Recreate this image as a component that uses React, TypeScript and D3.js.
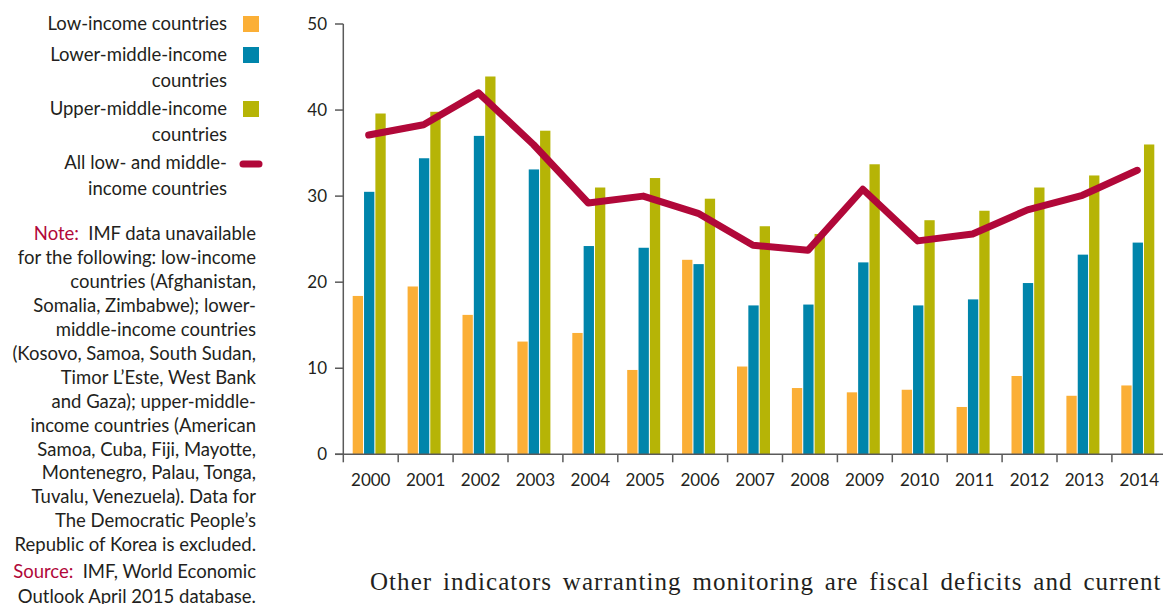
import * as d3 from "d3";
import * as React from "react";

const years = [
  "2000", "2001", "2002", "2003", "2004", "2005", "2006", "2007",
  "2008", "2009", "2010", "2011", "2012", "2013", "2014",
];
const lowIncome = [18.4, 19.5, 16.2, 13.1, 14.1, 9.8, 22.6, 10.2, 7.7, 7.2, 7.5, 5.5, 9.1, 6.8, 8.0];
const lowerMiddle = [30.5, 34.4, 37.0, 33.1, 24.2, 24.0, 22.1, 17.3, 17.4, 22.3, 17.3, 18.0, 19.9, 23.2, 24.6];
const upperMiddle = [39.6, 39.8, 43.9, 37.6, 31.0, 32.1, 29.7, 26.5, 25.6, 33.7, 27.2, 28.3, 31.0, 32.4, 36.0];
const allLowMiddle = [37.1, 38.3, 42.0, 36.0, 29.2, 30.0, 28.0, 24.3, 23.7, 30.8, 24.8, 25.6, 28.4, 30.1, 33.0];
const yTicks = [0, 10, 20, 30, 40, 50];

const seriesKeys = ["low", "lowerMiddle", "upperMiddle"];
const seriesValues = [lowIncome, lowerMiddle, upperMiddle];
const colors = ["#FBAF36", "#0085AB", "#B6B406"];
const lineColor = "#B10839";
const textColor = "#231F20";
const axisColor = "#5a5a5a";

const legendItems = [
  { lines: ["Low-income countries"], kind: "bar", color: colors[0] },
  { lines: ["Lower-middle-income", "countries"], kind: "bar", color: colors[1] },
  { lines: ["Upper-middle-income", "countries"], kind: "bar", color: colors[2] },
  { lines: ["All low- and middle-", "income countries"], kind: "line", color: lineColor },
];

const noteLines = [
  "IMF data unavailable",
  "for the following: low-income",
  "countries (Afghanistan,",
  "Somalia, Zimbabwe); lower-",
  "middle-income countries",
  "(Kosovo, Samoa, South Sudan,",
  "Timor L\u2019Este, West Bank",
  "and Gaza); upper-middle-",
  "income countries (American",
  "Samoa, Cuba, Fiji, Mayotte,",
  "Montenegro, Palau, Tonga,",
  "Tuvalu, Venezuela). Data for",
  "The Democratic People\u2019s",
  "Republic of Korea is excluded.",
];
const sourceLines = ["IMF, World Economic", "Outlook April 2015 database."];
const bodyText = "Other indicators warranting monitoring are fiscal deficits and current";

const W = 1163;
const H = 604;
const font = "Lato, 'Open Sans', sans-serif";
const sideSize = 18.5;

export default function App() {
  React.useEffect(() => {
    document.body.style.margin = "0";
  }, []);

  const plotLeft = 343.3;
  const step = 54.9;
  const x0 = d3
    .scaleBand()
    .domain(years)
    .range([plotLeft, plotLeft + step * years.length]);
  const x1 = d3
    .scaleBand()
    .domain(seriesKeys)
    .range([9.4, 42.4])
    .paddingInner(0.09);
  const y = d3.scaleLinear().domain([0, 50]).range([454.3, 24]);

  const line = d3
    .line<number>()
    .x((d, i) => (x0(years[i]) as number) + (x1("lowerMiddle") as number) + x1.bandwidth() / 2 - 0.5)
    .y((d) => y(d));

  const boundaries = years.map((yr) => x0(yr) as number);
  const legendTops = [24, 55, 109, 163];

  return (
    <svg
      width={W}
      height={H}
      style={{ position: "absolute", left: 0, top: 0, background: "#fff" }}
      fontFamily={font}
    >
      {/* legend */}
      {legendItems.map((item, i) => {
        const startY = legendTops[i];
        return (
          <g key={i}>
            {item.lines.map((t, j) => (
              <text
                key={j}
                x={227}
                y={startY + j * 25.5}
                dy="0.35em"
                textAnchor="end"
                fontSize={sideSize}
                fill={textColor}
              >
                {t}
              </text>
            ))}
            {item.kind === "bar" ? (
              <rect x={243} y={startY - 8} width={16} height={16} fill={item.color} />
            ) : (
              <line
                x1={243}
                x2={259}
                y1={startY + 1}
                y2={startY + 1}
                stroke={item.color}
                strokeWidth={7}
                strokeLinecap="round"
              />
            )}
          </g>
        );
      })}

      {/* note and source */}
      {noteLines.map((t, i) => (
        <text
          key={"n" + i}
          x={256}
          y={233.3 + i * 23.97}
          dy="0.35em"
          textAnchor="end"
          fontSize={sideSize}
          fill={textColor}
        >
          {i === 0 ? (
            <>
              <tspan fill={lineColor}>Note:</tspan>
              {"\u2002" + t}
            </>
          ) : (
            t
          )}
        </text>
      ))}
      {sourceLines.map((t, i) => (
        <text
          key={"s" + i}
          x={256}
          y={571.7 + i * 24.5}
          dy="0.35em"
          textAnchor="end"
          fontSize={sideSize}
          fill={textColor}
        >
          {i === 0 ? (
            <>
              <tspan fill={lineColor}>Source:</tspan>
              {"\u2002" + t}
            </>
          ) : (
            t
          )}
        </text>
      ))}

      {/* bars */}
      {seriesValues.map((vals, s) =>
        vals.map((v, i) => (
          <rect
            key={s + "-" + i}
            x={(x0(years[i]) as number) + (x1(seriesKeys[s]) as number)}
            y={y(v)}
            width={x1.bandwidth()}
            height={y(0) - y(v)}
            fill={colors[s]}
          />
        ))
      )}

      {/* axes */}
      <line x1={plotLeft} x2={plotLeft} y1={y(50)} y2={y(0)} stroke={axisColor} strokeWidth={1.5} />
      {yTicks.map((t) => (
        <g key={"yt" + t}>
          <line x1={335} x2={plotLeft} y1={y(t)} y2={y(t)} stroke={axisColor} strokeWidth={1.5} />
          <text x={327} y={y(t)} dy="0.35em" textAnchor="end" fontSize={17} fill={textColor}>
            {t}
          </text>
        </g>
      ))}
      <line x1={335} x2={W} y1={y(0)} y2={y(0)} stroke={axisColor} strokeWidth={1.5} />
      {boundaries.map((bx, i) => (
        <line key={"xt" + i} x1={bx} x2={bx} y1={y(0)} y2={y(0) + 8} stroke={axisColor} strokeWidth={1.5} />
      ))}
      {years.map((yr) => (
        <text
          key={"xl" + yr}
          x={(x0(yr) as number) + x0.bandwidth() / 2}
          y={480}
          dy="0.35em"
          textAnchor="middle"
          fontSize={17}
          fill={textColor}
        >
          {yr}
        </text>
      ))}

      {/* all low- and middle-income line */}
      <path
        d={line(allLowMiddle) || ""}
        fill="none"
        stroke={lineColor}
        strokeWidth={7}
        strokeLinecap="round"
        strokeLinejoin="round"
      />

      {/* body text below chart */}
      <text
        x={370}
        y={590}
        fontFamily="'Liberation Serif', 'DejaVu Serif', serif"
        fontSize={25}
        letterSpacing={1.05}
        wordSpacing={3.5}
        fill={textColor}
      >
        {bodyText}
      </text>
    </svg>
  );
}
